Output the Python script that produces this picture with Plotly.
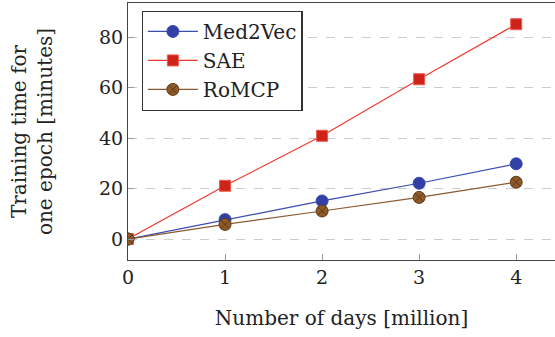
import plotly.graph_objects as go

days = [0, 1, 2, 3, 4]
med2vec = [0, 7.7, 15.1, 22.1, 29.8]
sae = [0, 21.1, 40.9, 63.3, 85.1]
romcp = [0, 5.8, 11.1, 16.5, 22.5]

x_ticks = [0, 1, 2, 3, 4]
y_ticks = [0, 20, 40, 60, 80]

FONT = "DejaVu Serif, Liberation Serif, serif"

fig = go.Figure()
fig.add_trace(go.Scatter(
    x=days, y=med2vec, name="Med2Vec", mode="lines+markers",
    line=dict(color="#3a4bb0", width=1.2),
    marker=dict(symbol="circle", size=12, color="#3240a6",
                line=dict(color="#3a4bb0", width=1)),
))
fig.add_trace(go.Scatter(
    x=days, y=sae, name="SAE", mode="lines+markers",
    line=dict(color="#f03a30", width=1.2),
    marker=dict(symbol="square", size=11, color="#cc2418",
                line=dict(color="#f05a50", width=1)),
))
fig.add_trace(go.Scatter(
    x=days, y=romcp, name="RoMCP", mode="lines+markers",
    line=dict(color="#8a5a30", width=1.2),
    marker=dict(symbol="circle-x", size=12, color="#8f5a28",
                line=dict(color="#5e3a18", width=1)),
))

axis_common = dict(
    showline=True, linecolor="#444444", linewidth=1.2, mirror=True,
    ticks="inside", ticklen=6, tickcolor="#999999", tickwidth=1,
    zeroline=False,
    tickfont=dict(family=FONT, size=19, color="#222222"),
)

fig.update_layout(
    width=555, height=337,
    margin=dict(l=128, r=0, t=3, b=77),
    paper_bgcolor="white", plot_bgcolor="white",
    showlegend=True,
    legend=dict(
        x=0.032, y=0.97, xanchor="left", yanchor="top",
        bgcolor="white", bordercolor="#333333", borderwidth=1.2,
        font=dict(family=FONT, size=20, color="#222222"),
        itemwidth=50,
    ),
    xaxis=dict(
        range=[0, 4.4], tickvals=x_ticks, showgrid=False,
        title=dict(text="Number of days [million]", standoff=24,
                   font=dict(family=FONT, size=20, color="#222222")),
        **axis_common,
    ),
    yaxis=dict(
        range=[-8.3, 93.5], tickvals=y_ticks, showgrid=True,
        gridcolor="#cccccc", griddash="dash", gridwidth=1,
        title=dict(text="Training time for<br>one epoch [minutes]", standoff=40,
                   font=dict(family=FONT, size=20, color="#222222")),
        **axis_common,
    ),
)

fig.write_html("out.html")
